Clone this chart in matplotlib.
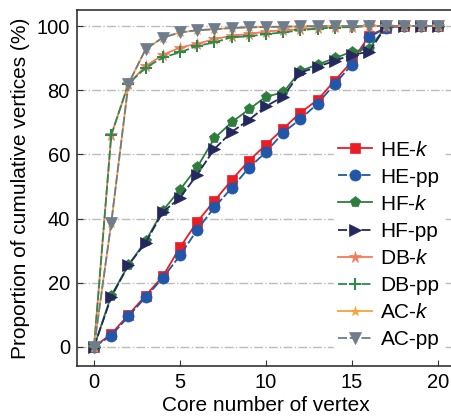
import matplotlib.pyplot as plt
import numpy as np

plt.rcParams['font.family'] = ['Liberation Sans', 'DejaVu Sans']
plt.rcParams['mathtext.fontset'] = 'custom'
plt.rcParams['mathtext.it'] = 'Liberation Sans:italic'
plt.rcParams['mathtext.rm'] = 'Liberation Sans'

# core numbers
core = np.arange(0, 21)

# cumulative proportion of vertices (%)
he_k = [0, 4, 10, 16, 22, 31, 39, 45.5, 52, 58, 63, 68, 73, 77, 83, 89, 97, 99.5, 100, 100, 100]
he_pp = [0, 3.5, 9.5, 15.5, 21.5, 28.5, 36.5, 43.5, 49.5, 55.8, 60.7, 66.8, 71, 75.8, 82, 88, 96.5, 99.5, 100, 100, 100]
hf_k = [0, 16, 25.5, 33, 42.5, 49, 56, 65, 70, 74, 78, 79.3, 86, 88, 90, 92, 93, 100, 100, 100, 100]
hf_pp = [0, 15.5, 25.5, 32.5, 42, 46.5, 53.7, 61.7, 67, 70.7, 75, 78, 85.5, 87.3, 89.2, 91, 92, 100, 100, 100, 100]
db_k = [0, 66, 82, 87.5, 91, 93.3, 94.5, 95.9, 97, 97.5, 98.3, 98.7, 99, 99.4, 99.7, 99.8, 100, 100, 100, 100, 100]
db_pp = [0, 66, 82, 87, 90.2, 91.8, 93.8, 94.9, 96.5, 96.8, 97.5, 98, 98.7, 99.2, 99.5, 99.7, 100, 100, 100, 100, 100]
ac_k = [0, 38.6, 82, 92.8, 96.4, 98, 98.7, 99, 99.4, 99.6, 99.7, 99.8, 99.9, 100, 100, 100, 100, 100, 100, 100, 100]
ac_pp = [0, 38.6, 82, 92.8, 96.4, 98, 98.7, 99, 99.4, 99.6, 99.7, 99.8, 99.9, 100, 100, 100, 100, 100, 100, 100, 100]

series = [
    ('HE-$k$', he_k, '#ec1c24', 's', '-', 7.5),
    ('HE-pp', he_pp, '#2157a8', 'o', (0, (5, 1.5)), 8),
    ('HF-$k$', hf_k, '#2e7d3c', 'p', '-', 8),
    ('HF-pp', hf_pp, '#25285e', '>', (0, (5, 1.5)), 8.5),
    ('DB-$k$', db_k, '#f47a5a', '*', '-', 8.5),
    ('DB-pp', db_pp, '#2e8b4a', '+', (0, (5, 1.5)), 8.5),
    ('AC-$k$', ac_k, '#f7a23a', '*', '-', 6.5),
    ('AC-pp', ac_pp, '#6f7c8c', 'v', (0, (5, 1.5)), 8.5),
]

fig = plt.figure(figsize=(4.52, 4.17), dpi=100)
ax = fig.add_axes([0.170, 0.122, 0.837, 0.854])

for label, vals, color, marker, ls, ms in series:
    mew = 1.5 if marker == '+' else 0.5
    ax.plot(core, vals, color=color, marker=marker, linestyle=ls, lw=1.3,
            markersize=ms, markeredgewidth=mew, label=label)

ax.set_xlim(-1, 21)
ax.set_ylim(-6, 105)
ax.set_xticks([0, 5, 10, 15, 20])
ax.set_yticks([0, 20, 40, 60, 80, 100])
ax.yaxis.grid(True, linestyle='-.', color='#bcbcbc', lw=1.0)
ax.set_axisbelow(True)
ax.tick_params(direction='in', labelsize=14.5, length=4, color='#333333', pad=5)
for s in ax.spines.values():
    s.set_color('#333333')
    s.set_linewidth(1.2)

ax.set_xlabel('Core number of vertex', fontsize=15, labelpad=3)
ax.set_ylabel('Proportion of cumulative vertices (%)', fontsize=15, labelpad=5)

leg = ax.legend(loc='upper left', bbox_to_anchor=(0.715, 0.698), bbox_transform=fig.transFigure,
                fontsize=15, frameon=True, framealpha=1, edgecolor='white', fancybox=False,
                borderpad=0.2, labelspacing=0.39, handlelength=1.65, handletextpad=0.4)

fig.savefig('out.png', dpi=100)
